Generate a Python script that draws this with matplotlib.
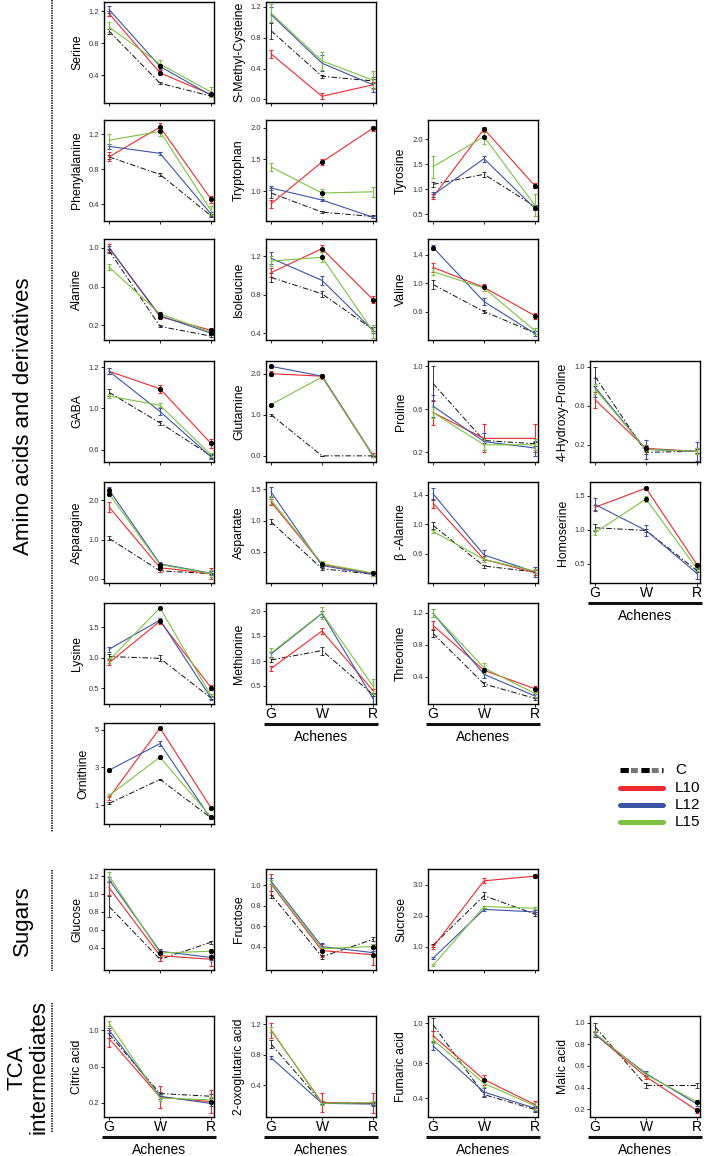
import numpy as np
import matplotlib
matplotlib.use('Agg')
import matplotlib.pyplot as plt
from matplotlib.lines import Line2D

plt.rcParams['font.family'] = ['Liberation Sans', 'DejaVu Sans']
plt.rcParams['lines.scale_dashes'] = False

W, H = 704, 1156

stages = ['G', 'W', 'R']
series = ['C', 'L10', 'L12', 'L15']
colors = ['#1a1a1a', '#ee2a2f', '#3c55a5', '#7cc242']

# values per metabolite: rows are C, L10, L12, L15; columns G, W, R
serine = [[0.95, 0.30, 0.14], [1.17, 0.43, 0.16], [1.22, 0.51, 0.15], [1.00, 0.54, 0.19]]
serine_err = [[0.03, 0.01, 0.01], [0.03, 0.03, 0.02], [0.04, 0.03, 0.02], [0.06, 0.05, 0.06]]
serine_sig = [(1, 1), (2, 1), (1, 2)]

smc = [[0.89, 0.30, 0.24], [0.59, 0.04, 0.19], [1.10, 0.47, 0.19], [1.12, 0.50, 0.25]]
smc_err = [[0.10, 0.02, 0.03], [0.05, 0.04, 0.04], [0.10, 0.10, 0.10], [0.12, 0.12, 0.12]]
smc_sig = []

phe = [[0.94, 0.74, 0.27], [0.94, 1.28, 0.46], [1.06, 0.98, 0.29], [1.13, 1.23, 0.33]]
phe_err = [[0.02, 0.02, 0.02], [0.05, 0.05, 0.04], [0.03, 0.02, 0.02], [0.07, 0.05, 0.05]]
phe_sig = [(1, 1), (3, 1), (1, 2)]

trp = [[0.97, 0.67, 0.60], [0.80, 1.46, 1.99], [1.05, 0.86, 0.59], [1.38, 0.97, 0.99]]
trp_err = [[0.08, 0.02, 0.02], [0.06, 0.05, 0.04], [0.03, 0.02, 0.02], [0.07, 0.06, 0.08]]
trp_sig = [(1, 1), (3, 1), (1, 2)]

tyr = [[1.10, 1.30, 0.66], [0.85, 2.20, 1.07], [0.89, 1.61, 0.62], [1.45, 2.05, 0.68]]
tyr_err = [[0.05, 0.05, 0.03], [0.05, 0.05, 0.05], [0.05, 0.06, 0.04], [0.22, 0.15, 0.22]]
tyr_sig = [(1, 1), (3, 1), (1, 2), (2, 2)]

ala = [[0.97, 0.19, 0.09], [1.00, 0.29, 0.15], [1.00, 0.30, 0.12], [0.80, 0.32, 0.13]]
ala_err = [[0.02, 0.01, 0.01], [0.04, 0.02, 0.02], [0.02, 0.01, 0.02], [0.03, 0.02, 0.02]]
ala_sig = [(1, 1), (3, 1), (1, 2), (2, 2)]

ile = [[0.98, 0.81, 0.44], [1.03, 1.28, 0.75], [1.18, 0.95, 0.43], [1.15, 1.19, 0.42]]
ile_err = [[0.05, 0.03, 0.02], [0.05, 0.04, 0.04], [0.06, 0.05, 0.03], [0.05, 0.05, 0.07]]
ile_sig = [(1, 1), (3, 1), (1, 2)]

val = [[0.98, 0.60, 0.30], [1.22, 0.94, 0.54], [1.50, 0.74, 0.29], [1.16, 0.93, 0.33]]
val_err = [[0.06, 0.02, 0.02], [0.06, 0.05, 0.04], [0.04, 0.05, 0.03], [0.05, 0.04, 0.04]]
val_sig = [(2, 0), (1, 1), (1, 2)]

gaba = [[1.155, 0.86, 0.54], [1.36, 1.19, 0.66], [1.36, 0.97, 0.53], [1.12, 1.03, 0.55]]
gaba_err = [[0.03, 0.02, 0.02], [0.03, 0.04, 0.04], [0.03, 0.03, 0.02], [0.02, 0.02, 0.02]]
gaba_sig = [(1, 1), (1, 2)]

gln = [[1.00, 0.00, 0.00], [2.00, 1.94, 0.02], [2.18, 1.94, 0.00], [1.25, 1.92, 0.00]]
gln_err = [[0.02, 0.00, 0.00], [0.06, 0.06, 0.05], [0.03, 0.03, 0.02], [0.02, 0.03, 0.02]]
gln_sig = [(1, 0), (2, 0), (3, 0), (2, 1)]

pro = [[0.84, 0.31, 0.28], [0.57, 0.33, 0.33], [0.63, 0.30, 0.24], [0.57, 0.27, 0.27]]
pro_err = [[0.16, 0.02, 0.02], [0.12, 0.13, 0.13], [0.10, 0.08, 0.07], [0.05, 0.05, 0.05]]
pro_sig = []

hyp = [[0.90, 0.12, 0.13], [0.66, 0.16, 0.13], [0.79, 0.15, 0.13], [0.77, 0.15, 0.13]]
hyp_err = [[0.10, 0.02, 0.02], [0.08, 0.03, 0.03], [0.10, 0.10, 0.10], [0.05, 0.03, 0.03]]
hyp_sig = [(1, 1)]

asn = [[1.03, 0.20, 0.13], [1.83, 0.28, 0.13], [2.27, 0.38, 0.14], [2.17, 0.36, 0.13]]
asn_err = [[0.05, 0.02, 0.02], [0.12, 0.10, 0.15], [0.06, 0.05, 0.05], [0.06, 0.05, 0.08]]
asn_sig = [(2, 0), (3, 0), (1, 1), (3, 1)]

asp = [[0.98, 0.23, 0.14], [1.30, 0.30, 0.15], [1.46, 0.28, 0.14], [1.33, 0.31, 0.16]]
asp_err = [[0.04, 0.02, 0.02], [0.05, 0.03, 0.04], [0.08, 0.03, 0.02], [0.06, 0.04, 0.04]]
asp_sig = [(3, 1), (3, 2)]

bala = [[0.98, 0.43, 0.35], [1.28, 0.52, 0.34], [1.41, 0.58, 0.35], [0.90, 0.52, 0.36]]
bala_err = [[0.05, 0.02, 0.02], [0.06, 0.04, 0.03], [0.08, 0.07, 0.07], [0.02, 0.03, 0.03]]
bala_sig = []

hse = [[1.03, 0.99, 0.40], [1.33, 1.61, 0.49], [1.37, 0.99, 0.36], [0.96, 1.45, 0.43]]
hse_err = [[0.05, 0.02, 0.02], [0.04, 0.02, 0.03], [0.10, 0.08, 0.08], [0.04, 0.04, 0.04]]
hse_sig = [(1, 1), (3, 1), (1, 2)]

lys = [[1.02, 0.99, 0.34], [0.92, 1.60, 0.51], [1.14, 1.62, 0.34], [0.96, 1.82, 0.38]]
lys_err = [[0.04, 0.05, 0.02], [0.04, 0.04, 0.04], [0.04, 0.03, 0.03], [0.04, 0.02, 0.03]]
lys_sig = [(1, 1), (3, 1), (1, 2)]

met = [[1.02, 1.21, 0.33], [0.85, 1.60, 0.41], [1.14, 1.95, 0.25], [1.16, 1.96, 0.50]]
met_err = [[0.04, 0.08, 0.03], [0.05, 0.06, 0.04], [0.05, 0.06, 0.10], [0.10, 0.12, 0.15]]
met_sig = []

thr = [[0.94, 0.31, 0.13], [1.04, 0.48, 0.25], [1.19, 0.43, 0.16], [1.19, 0.51, 0.19]]
thr_err = [[0.04, 0.02, 0.02], [0.05, 0.03, 0.04], [0.05, 0.04, 0.03], [0.05, 0.06, 0.04]]
thr_sig = [(1, 1), (1, 2)]

orn = [[1.09, 2.36, 0.33], [1.39, 5.09, 0.86], [2.85, 4.26, 0.28], [1.51, 3.54, 0.37]]
orn_err = [[0.05, 0.05, 0.03], [0.10, 0.05, 0.05], [0.08, 0.12, 0.03], [0.10, 0.08, 0.05]]
orn_sig = [(2, 0), (1, 1), (3, 1), (1, 2), (3, 2)]

glc = [[0.86, 0.27, 0.46], [1.07, 0.31, 0.27], [1.16, 0.36, 0.29], [1.20, 0.34, 0.36]]
glc_err = [[0.12, 0.02, 0.02], [0.08, 0.06, 0.08], [0.03, 0.03, 0.03], [0.05, 0.02, 0.02]]
glc_sig = [(3, 1), (3, 2), (2, 2)]

fru = [[0.91, 0.30, 0.47], [1.01, 0.36, 0.32], [1.04, 0.40, 0.34], [1.02, 0.38, 0.40]]
fru_err = [[0.03, 0.02, 0.02], [0.10, 0.06, 0.10], [0.03, 0.03, 0.02], [0.03, 0.02, 0.02]]
fru_sig = [(1, 1), (3, 2), (1, 2)]

suc = [[1.05, 2.64, 2.05], [0.99, 3.12, 3.27], [0.63, 2.20, 2.12], [0.40, 2.29, 2.24]]
suc_err = [[0.05, 0.12, 0.06], [0.08, 0.08, 0.07], [0.04, 0.04, 0.06], [0.03, 0.03, 0.03]]
suc_sig = [(1, 2)]

cit = [[0.96, 0.30, 0.27], [0.91, 0.26, 0.21], [1.00, 0.27, 0.19], [1.08, 0.25, 0.23]]
cit_err = [[0.04, 0.02, 0.02], [0.09, 0.12, 0.13], [0.03, 0.03, 0.03], [0.03, 0.03, 0.03]]
cit_sig = [(1, 2)]

oxo = [[0.94, 0.17, 0.16], [1.12, 0.17, 0.16], [0.76, 0.16, 0.15], [1.13, 0.16, 0.17]]
oxo_err = [[0.05, 0.02, 0.02], [0.10, 0.13, 0.13], [0.02, 0.02, 0.02], [0.03, 0.02, 0.02]]
oxo_sig = []

fum = [[0.99, 0.43, 0.31], [0.90, 0.55, 0.35], [0.82, 0.45, 0.32], [0.87, 0.52, 0.34]]
fum_err = [[0.05, 0.02, 0.02], [0.04, 0.04, 0.03], [0.03, 0.03, 0.02], [0.03, 0.03, 0.03]]
fum_sig = [(1, 1)]

mal = [[0.96, 0.42, 0.42], [0.89, 0.50, 0.19], [0.89, 0.53, 0.25], [0.90, 0.52, 0.27]]
mal_err = [[0.04, 0.02, 0.02], [0.02, 0.02, 0.02], [0.02, 0.02, 0.02], [0.02, 0.02, 0.02]]
mal_sig = [(1, 2), (3, 2)]

# panel grid (pixels)
col_left = [104, 266, 428, 590]
row_top = [1.5, 120, 239, 361, 482, 603, 723, 869, 1016]
PW, PH = 110, 101

# name, values, errors, marks, col, row, ylim, ticks, tick labels, stage labels
panels = [
    ('Serine', serine, serine_err, serine_sig, 0, 0, (0.06, 1.32), [0.4, 0.8, 1.2], None, False),
    ('S-Methyl-Cysteine', smc, smc_err, smc_sig, 1, 0, (-0.04, 1.27), [0.0, 0.4, 0.8, 1.2], None, False),
    ('Phenylalanine', phe, phe_err, phe_sig, 0, 1, (0.21, 1.36), [0.4, 0.8, 1.2], None, False),
    ('Tryptophan', trp, trp_err, trp_sig, 1, 1, (0.53, 2.12), [1.0, 1.5, 2.0], None, False),
    ('Tyrosine', tyr, tyr_err, tyr_sig, 2, 1, (0.37, 2.38), [0.5, 1.0, 1.5, 2.0], None, False),
    ('Alanine', ala, ala_err, ala_sig, 0, 2, (0.05, 1.09), [0.2, 0.6, 1.0], None, False),
    ('Isoleucine', ile, ile_err, ile_sig, 1, 2, (0.33, 1.38), [0.4, 0.8, 1.2], None, False),
    ('Valine', val, val_err, val_sig, 2, 2, (0.20, 1.62), [0.6, 1.0, 1.4], None, False),
    ('GABA', gaba, gaba_err, gaba_sig, 0, 3, (0.48, 1.46), [0.6, 1.0, 1.4], ['0.6', '1.0', '1.2'], False),
    ('Glutamine', gln, gln_err, gln_sig, 1, 3, (-0.15, 2.31), [0.0, 1.0, 2.0], None, False),
    ('Proline', pro, pro_err, pro_sig, 2, 3, (0.11, 1.05), [0.2, 0.6, 1.0], None, False),
    ('4-Hydroxy-Proline', hyp, hyp_err, hyp_sig, 3, 3, (0.02, 1.06), [0.2, 0.6, 1.0], None, False),
    ('Asparagine', asn, asn_err, asn_sig, 0, 4, (-0.11, 2.47), [0.0, 1.0, 2.0], None, False),
    ('Aspartate', asp, asp_err, asp_sig, 1, 4, (0.0, 1.62), [0.5, 1.0, 1.5], None, False),
    ('\u03b2 -Alanine', bala, bala_err, bala_sig, 2, 4, (0.20, 1.57), [0.6, 1.0, 1.4], None, False),
    ('Homoserine', hse, hse_err, hse_sig, 3, 4, (0.22, 1.70), [0.5, 1.0, 1.5], None, True),
    ('Lysine', lys, lys_err, lys_sig, 0, 5, (0.24, 1.90), [0.5, 1.0, 1.5], None, False),
    ('Methionine', met, met_err, met_sig, 1, 5, (0.14, 2.16), [0.5, 1.0, 1.5, 2.0], None, True),
    ('Threonine', thr, thr_err, thr_sig, 2, 5, (0.06, 1.32), [0.4, 0.8, 1.2], None, True),
    ('Ornithine', orn, orn_err, orn_sig, 0, 6, (0.0, 5.35), [1, 3, 5], ['1', '3', '5'], False),
    ('Glucose', glc, glc_err, glc_sig, 0, 7, (0.15, 1.28), [0.4, 0.6, 0.8, 1.0, 1.2], None, False),
    ('Fructose', fru, fru_err, fru_sig, 1, 7, (0.17, 1.16), [0.4, 0.6, 0.8, 1.0], None, False),
    ('Sucrose', suc, suc_err, suc_sig, 2, 7, (0.25, 3.5), [1.0, 2.0, 3.0], None, False),
    ('Citric acid', cit, cit_err, cit_sig, 0, 8, (0.04, 1.16), [0.2, 0.6, 1.0], None, True),
    ('2-oxoglutaric acid', oxo, oxo_err, oxo_sig, 1, 8, (-0.02, 1.31), [0.4, 0.8, 1.2], None, True),
    ('Fumaric acid', fum, fum_err, fum_sig, 2, 8, (0.25, 1.06), [0.4, 0.68, 1.0], ['0.4', '0.8', '1.0'], True),
    ('Malic acid', mal, mal_err, mal_sig, 3, 8, (0.13, 1.06), [0.2, 0.4, 0.6, 0.8, 1.0], None, True),
]

fig = plt.figure(figsize=(W / 100, H / 100), dpi=100)


def fx(px):
    return px / W


def fy(py):
    return 1 - py / H


def draw_panel(name, vals, errs, sig, col, row, ylim, ticks, ticklabels, xlab):
    left, top = col_left[col], row_top[row]
    ax = fig.add_axes([fx(left), fy(top + PH), PW / W, PH / H])
    x = np.arange(len(stages))
    for i in range(len(series)):
        if i == 0:
            ax.errorbar(x, vals[i], yerr=errs[i], color=colors[0], lw=0.75,
                        ls=(0, (4, 1.5, 1, 1.5)), elinewidth=0.6, capsize=1.2, capthick=0.6)
        else:
            ax.errorbar(x, vals[i], yerr=errs[i], color=colors[i], lw=0.8,
                        elinewidth=0.8, capsize=1.5, capthick=0.8)
    for s, k in sig:
        ax.plot(k, vals[s][k], 'o', color='black', ms=2.7, zorder=5)

    ax.set_xlim(-0.1, 2.06)
    ax.set_ylim(ylim)
    ax.set_xticks(x)
    if ticklabels is None:
        ticklabels = [f'{t:.1f}' for t in ticks]
    ax.set_yticks(ticks, ticklabels)
    ax.tick_params(axis='y', length=2, width=0.6, labelsize=5.5, pad=1.5, labelcolor='#333333')
    if xlab:
        ax.set_xticklabels(stages, fontsize=10)
        ax.tick_params(axis='x', length=2, width=0.6, pad=0.5)
    else:
        ax.set_xticklabels([])
        ax.tick_params(axis='x', length=2.5, width=0.6)
    ax.set_ylabel(name, fontsize=8.8, labelpad=4)
    for sp in ax.spines.values():
        sp.set_linewidth(1.0)

    if xlab:
        bottom = top + PH
        fig.add_artist(Line2D([fx(left - 2), fx(left + PW + 2)], [fy(bottom + 20)] * 2,
                              color='#111111', lw=2.2, solid_capstyle='butt'))
        fig.text(fx(left + PW / 2), fy(bottom + 33), 'Achenes', ha='center', va='center', fontsize=10)
        fig.text(fx(left + PW / 2 + 30), fy(bottom + 35), '.', ha='center', va='center',
                 fontsize=5, color='#888888')


for p in panels:
    draw_panel(*p)


# group labels on the left
def group(label, y0, y1, x_text=24):
    fig.add_artist(Line2D([fx(52), fx(52)], [fy(y0), fy(y1)], color='#222222', lw=1.3,
                          ls=(0, (1, 0.8))))
    fig.text(fx(x_text), fy((y0 + y1) / 2), label, rotation=90, ha='center', va='center',
             fontsize=16, multialignment='center', linespacing=1.1)


group('Amino acids and derivatives', 0, 832)
group('Sugars', 870, 971, x_text=22)
group('TCA\nintermediates', 1003, 1132, x_text=28)

# legend
leg_y = [770, 788, 805, 822]
for i, name in enumerate(series):
    y = fy(leg_y[i])
    if i == 0:
        fig.add_artist(Line2D([fx(620), fx(663)], [y, y], color='#777777', lw=3.6,
                              ls=(7.5, (5, 10)), dash_capstyle='butt'))
        fig.add_artist(Line2D([fx(620), fx(663)], [y, y], color='black', lw=3.6,
                              ls=(0, (6, 9)), dash_capstyle='butt'))
    else:
        fig.add_artist(Line2D([fx(620), fx(663)], [y, y], color=colors[i], lw=3.6,
                              solid_capstyle='round'))
    fig.text(fx(675), y, name, ha='left', va='center', fontsize=11)

fig.savefig('out.png', dpi=100)
